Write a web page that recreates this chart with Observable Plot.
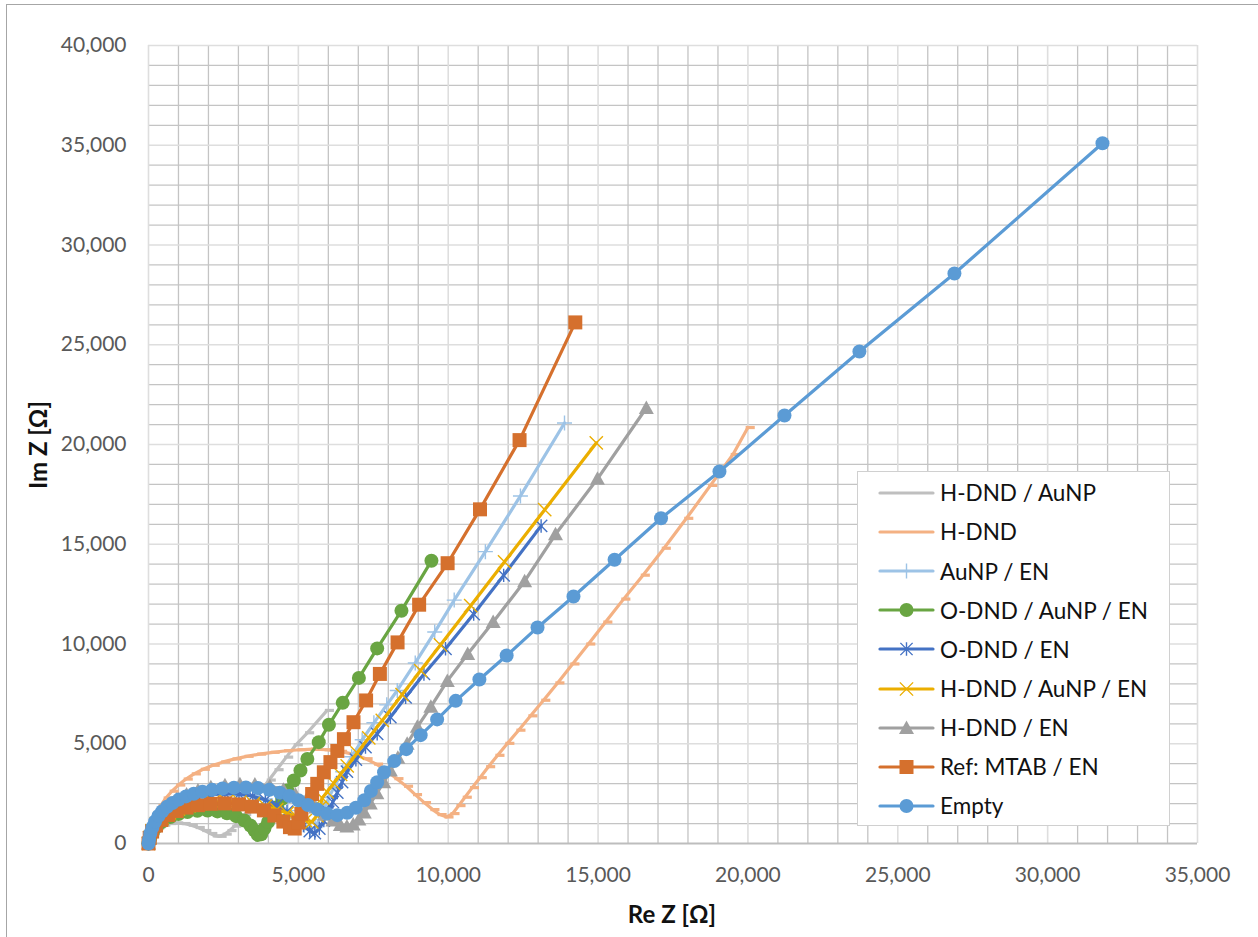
<!DOCTYPE html>
<html><head><meta charset="utf-8">
<script src="https://cdn.jsdelivr.net/npm/d3@7"></script>
<script src="https://cdn.jsdelivr.net/npm/@observablehq/plot@0.6"></script>
<style>
html,body{margin:0;padding:0;background:#fff;overflow:hidden}
#wrap{position:relative;width:1258px;height:937px;font-family:Lato,"Open Sans",sans-serif;overflow:hidden}
#frame{position:absolute;left:6px;top:4px;width:1400px;height:1100px;border:1.5px solid #a6a6a6;box-sizing:border-box;pointer-events:none}
#legend{position:absolute;left:857px;top:471px;width:313px;height:355px;border:1.3px solid #d0d0d0;background:#fff;box-sizing:border-box}
.lg{position:absolute;left:0;height:30px;display:flex;align-items:center}
.lg span{font-size:22.5px;color:#111;margin-left:5px;white-space:nowrap}
.ttl{position:absolute;font-weight:bold;font-size:24px;color:#111;white-space:nowrap}
</style></head>
<body><div id="wrap"><div id="frame"></div></div>
<script>
// ---- data (Re Z, Im Z in Ω) ----
const seriesNames = ["H-DND / AuNP","H-DND","AuNP / EN","O-DND / AuNP / EN","O-DND / EN","H-DND / AuNP / EN","H-DND / EN","Ref: MTAB / EN","Empty"];
const seriesColors = ["#BFBFBF","#F4B183","#9DC3E6","#69A542","#4472C4","#EBAE00","#A0A0A0","#D5702D","#5B9BD5"];
const seriesMarkers = ["dash","dash","plus","circle","star","times","triangle","square","circle"];

const hdndAunp = [[0,0],[40,250],[100,450],[200,650],[330,800],[500,920],[700,1000],[930,1030],[1180,1000],[1420,920],[1650,800],[1870,650],[2070,500],[2220,380],[2380,360],[2550,470],[2710,650],[2870,870],[3030,1120],[3200,1450],[3380,1820],[3580,2250],[3790,2720],[4020,3180],[4280,3700],[4600,4330],[4920,4950],[5300,5550],[5960,6670]];
const hdnd = [[0,0],[30,350],[80,700],[160,1100],[270,1500],[410,1900],[580,2280],[780,2620],[1000,2930],[1250,3230],[1520,3490],[1820,3720],[2150,3920],[2500,4090],[2880,4240],[3280,4370],[3700,4480],[4150,4570],[4600,4650],[5050,4700],[5500,4730],[5950,4700],[6400,4620],[6850,4470],[7250,4250],[7600,3980],[7950,3650],[8280,3250],[8600,2870],[8900,2450],[9200,2050],[9480,1700],[9720,1450],[9950,1330],[10150,1500],[10350,1900],[10560,2320],[10800,2800],[11060,3300],[11340,3850],[11650,4420],[11980,5020],[12350,5680],[12750,6400],[13180,7180],[13650,8050],[14150,9000],[14680,10000],[15250,11100],[15850,12250],[16500,13450],[17200,14800],[17950,16300],[18750,17950],[19500,19500],[20000,20850]];
const aunpEn = [[0,0],[40,300],[120,650],[250,1000],[420,1330],[650,1650],[930,1920],[1270,2150],[1650,2330],[2080,2450],[2550,2500],[3020,2480],[3480,2400],[3900,2230],[4300,1980],[4650,1650],[4950,1280],[5200,920],[5400,700],[5560,800],[5700,1200],[5850,1750],[6020,2300],[6230,2950],[6480,3600],[6780,4350],[7130,5200],[7520,6050],[7950,6950],[8300,7670],[8900,9050],[9550,10600],[10200,12200],[11240,14630],[12410,17420],[13880,21080]];
const odndAunpEn = [[0,0],[60,280],[150,560],[290,850],[480,1110],[730,1330],[1000,1480],[1300,1580],[1630,1640],[1970,1650],[2300,1610],[2620,1520],[2920,1370],[3200,1150],[3400,900],[3540,650],[3650,430],[3760,460],[3870,760],[3990,1080],[4130,1420],[4290,1820],[4460,2240],[4630,2660],[4850,3160],[5070,3660],[5300,4240],[5680,5080],[6020,5950],[6480,7050],[7020,8300],[7630,9780],[8440,11670],[9440,14170]];
const odndEn = [[0,0],[40,300],[120,650],[250,1000],[420,1330],[650,1650],[930,1920],[1270,2150],[1650,2330],[2080,2450],[2550,2500],[3020,2470],[3480,2370],[3900,2180],[4280,1920],[4620,1600],[4920,1250],[5170,900],[5380,620],[5550,520],[5700,750],[5850,1150],[6000,1600],[6150,2080],[6300,2550],[6460,3080],[6620,3600],[6920,4200],[7240,4830],[7630,5500],[8070,6330],[8580,7330],[9190,8500],[9910,9760],[10850,11500],[11850,13440],[13100,15920]];
const hdndAunpEn = [[0,0],[40,300],[120,640],[260,980],[450,1280],[700,1530],[1000,1730],[1350,1890],[1730,2000],[2150,2070],[2600,2100],[3050,2080],[3500,2000],[3900,1870],[4280,1700],[4630,1520],[4950,1330],[5230,1150],[5450,1080],[5620,1400],[5720,1800],[5800,2280],[5960,2590],[6180,3020],[6410,3470],[6630,3890],[6960,4540],[7350,5300],[7800,6170],[8460,7460],[9080,8670],[9740,9950],[10750,11920],[11880,14120],[13220,16730],[14940,20080]];
const hdndEn = [[0,0],[40,350],[120,750],[250,1150],[430,1550],[660,1900],[940,2200],[1270,2460],[1650,2660],[2080,2820],[2550,2920],[3050,2970],[3550,2960],[4050,2880],[4500,2700],[4900,2450],[5250,2150],[5580,1800],[5880,1450],[6150,1150],[6400,930],[6620,850],[6830,950],[7020,1200],[7200,1550],[7400,2000],[7620,2520],[7850,3070],[8070,3660],[8320,4300],[8630,5000],[8970,5850],[9420,6850],[9970,8150],[10650,9500],[11500,11100],[12550,13150],[13580,15500],[14980,18280],[16610,21830]];
const refMtabEn = [[0,0],[40,280],[120,600],[250,900],[430,1180],[660,1430],[940,1630],[1270,1800],[1650,1920],[2080,1990],[2550,2010],[3020,1960],[3450,1850],[3850,1660],[4200,1400],[4500,1100],[4720,820],[4880,750],[5000,1050],[5100,1490],[5300,1980],[5460,2480],[5630,2990],[5850,3570],[6070,4080],[6300,4640],[6520,5230],[6840,6080],[7260,7170],[7720,8500],[8310,10080],[9030,11970],[9980,14050],[11060,16750],[12380,20220],[14240,26120]];
const empty = [[0,0],[20,200],[60,500],[130,800],[220,1100],[330,1380],[460,1620],[620,1840],[800,2030],[1010,2200],[1250,2360],[1510,2490],[1800,2600],[2120,2690],[2470,2760],[2850,2800],[3250,2810],[3650,2780],[4030,2690],[4380,2550],[4700,2380],[5000,2170],[5320,1930],[5640,1700],[5960,1500],[6300,1420],[6630,1540],[6920,1790],[7200,2170],[7420,2630],[7630,3070],[7860,3570],[8200,4130],[8600,4730],[9080,5430],[9630,6220],[10250,7150],[11040,8220],[11950,9420],[12980,10830],[14180,12380],[15550,14220],[17100,16300],[19050,18650],[21220,21450],[23720,24660],[26890,28570],[31830,35100]];

const seriesData = [hdndAunp, hdnd, aunpEn, odndAunpEn, odndEn, hdndAunpEn, hdndEn, refMtabEn, empty];

const xTicks = [0,5000,10000,15000,20000,25000,30000,35000];
const yTicks = [0,5000,10000,15000,20000,25000,30000,35000,40000];
const xLabel = "Re Z [Ω]";
const yLabel = "Im Z [Ω]";

// ---- marker symbols ----
const rad = s => Math.sqrt(s / Math.PI);
const symbols = {
  dash: {draw(c, s){ const r = rad(s); c.moveTo(-r*0.35,-1.6); c.lineTo(r*1.05,-1.6); c.lineTo(r*1.05,1.6); c.lineTo(-r*0.35,1.6); c.closePath(); }},
  plus: {draw(c, s){ const r = rad(s); c.moveTo(-r,0); c.lineTo(r,0); c.moveTo(0,-r); c.lineTo(0,r); }},
  times: {draw(c, s){ const r = rad(s)*0.78; c.moveTo(-r,-r); c.lineTo(r,r); c.moveTo(-r,r); c.lineTo(r,-r); }},
  star: {draw(c, s){ const r = rad(s)*0.72; c.moveTo(-r,-r); c.lineTo(r,r); c.moveTo(-r,r); c.lineTo(r,-r); c.moveTo(0,-r*1.1); c.lineTo(0,r*1.1); }},
  triangle: {draw(c, s){ const r = rad(s); c.moveTo(0,-r); c.lineTo(r,r*0.8); c.lineTo(-r,r*0.8); c.closePath(); }},
  square: {draw(c, s){ const r = rad(s); c.rect(-r,-r,2*r,2*r); }},
  circle: "circle"
};
const markerStyle = {
  dash: {r: 6.5, filled: true}, plus: {r: 7.5, filled: false}, times: {r: 8.5, filled: false},
  star: {r: 8.5, filled: false}, triangle: {r: 7.5, filled: true}, square: {r: 7, filled: true},
  circle: {r: 7, filled: true}
};

// ---- marks ----
const xMinor = d3.range(0, 35001, 1000).filter(v => v % 5000 !== 0);
const yMinor = d3.range(0, 40001, 1000).filter(v => v % 5000 !== 0);

const marks = [
  Plot.ruleX(xMinor, {stroke: "#c4c4c4", strokeWidth: 1.3}),
  Plot.ruleY(yMinor, {stroke: "#c4c4c4", strokeWidth: 1.3}),
  Plot.ruleX(xTicks, {stroke: "#dedede", strokeWidth: 1.6}),
  Plot.ruleY(yTicks.filter(v => v > 0), {stroke: "#dedede", strokeWidth: 1.6}),
  Plot.ruleY([0], {stroke: "#bdbdbd", strokeWidth: 2}),
  Plot.axisX({ticks: xTicks, tickFormat: d3.format(","), tickSize: 0, tickPadding: 24, label: null, fill: "#595959"}),
  Plot.axisY({ticks: yTicks, tickFormat: d3.format(","), tickSize: 0, tickPadding: 22, label: null, fill: "#595959"})
];

seriesData.forEach((pts, i) => {
  const color = seriesColors[i];
  const m = seriesMarkers[i];
  const st = markerStyle[m];
  marks.push(Plot.line(pts, {x: d => d[0], y: d => d[1], stroke: color, strokeWidth: 3.2, strokeLinejoin: "round", strokeLinecap: "round"}));
  marks.push(Plot.dot(pts, {x: d => d[0], y: d => d[1], r: st.r, symbol: symbols[m],
    fill: st.filled ? color : "none", stroke: st.filled ? "none" : color, strokeWidth: st.filled ? 0 : 1.4}));
});

const chart = Plot.plot({
  width: 1258, height: 937,
  marginLeft: 148, marginRight: 61, marginTop: 45, marginBottom: 94,
  x: {domain: [0, 35000]},
  y: {domain: [0, 40000]},
  style: {fontFamily: "Lato, 'Open Sans', sans-serif", fontSize: "21px", background: "transparent", overflow: "visible"},
  marks
});

const wrap = document.getElementById("wrap");
chart.style.position = "absolute";
chart.style.left = "0px";
chart.style.top = "0px";
wrap.insertBefore(chart, wrap.firstChild);

// axis titles
const xt = document.createElement("div");
xt.className = "ttl"; xt.textContent = xLabel;
xt.style.left = "672px"; xt.style.top = "913px"; xt.style.transform = "translate(-50%,-50%)";
wrap.appendChild(xt);
const yt = document.createElement("div");
yt.className = "ttl"; yt.textContent = yLabel;
yt.style.left = "37px"; yt.style.top = "445px"; yt.style.transform = "translate(-50%,-50%) rotate(-90deg)";
wrap.appendChild(yt);

// legend
const lg = document.createElement("div");
lg.id = "legend";
wrap.appendChild(lg);
seriesNames.forEach((name, i) => {
  const row = document.createElement("div");
  row.className = "lg";
  row.style.top = (20.7 + i * 39.16 - 15) + "px";
  const svg = d3.create("svg").attr("width", 56).attr("height", 30).style("margin-left", "21px").style("overflow", "visible");
  svg.append("line").attr("x1", 1).attr("x2", 54).attr("y1", 15).attr("y2", 15)
    .attr("stroke", seriesColors[i]).attr("stroke-width", 3.2).attr("stroke-linecap", "round");
  const m = seriesMarkers[i];
  const st = markerStyle[m];
  if (m !== "dash") {
    const sym = m === "circle" ? d3.symbolCircle : symbols[m];
    svg.append("path").attr("transform", "translate(27.5,15)")
      .attr("d", d3.symbol(sym, Math.PI * st.r * st.r)())
      .attr("fill", st.filled ? seriesColors[i] : "none")
      .attr("stroke", st.filled ? "none" : seriesColors[i]).attr("stroke-width", 1.4);
  }
  row.appendChild(svg.node());
  const sp = document.createElement("span");
  sp.textContent = name;
  row.appendChild(sp);
  lg.appendChild(row);
});
</script>
</body></html>
